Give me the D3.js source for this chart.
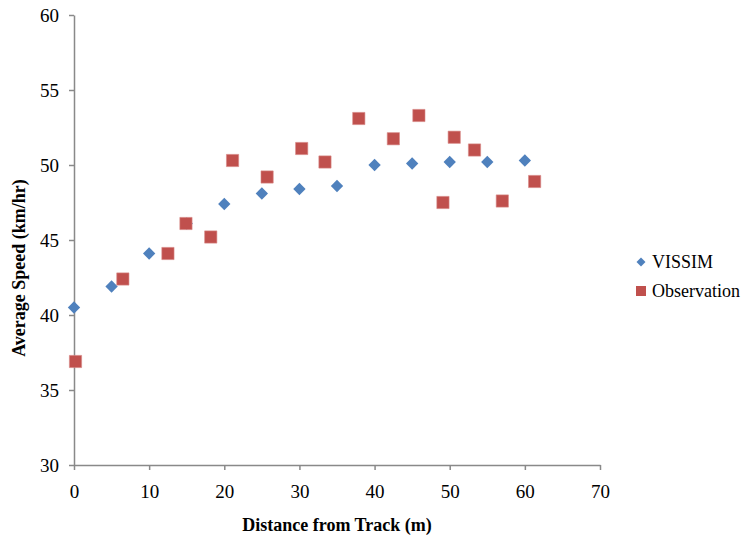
<!DOCTYPE html>
<html>
<head>
<meta charset="utf-8">
<script src="https://cdn.jsdelivr.net/npm/d3@7"></script>
<style>
  html, body { margin: 0; padding: 0; background: #fff; }
  svg { display: block; }
</style>
</head>
<body>
<svg id="chart" width="745" height="539" font-family="Liberation Serif, Times New Roman, serif"></svg>
<script>
// ---- data ----
const vissimX = [0, 5, 10, 15, 20, 25, 30, 35, 40, 45, 50, 55, 60];
const vissimY = [40.5, 41.9, 44.1, 46.1, 47.4, 48.1, 48.4, 48.6, 50.0, 50.1, 50.2, 50.2, 50.3];
const obsX = [0.2, 6.5, 12.5, 14.9, 18.2, 21.1, 25.7, 30.3, 33.4, 37.9, 42.5, 45.9, 49.1, 50.6, 53.3, 57.0, 61.3];
const obsY = [36.9, 42.4, 44.1, 46.1, 45.2, 50.3, 49.2, 51.1, 50.2, 53.1, 51.75, 53.3, 47.5, 51.85, 51.0, 47.6, 48.9];
const xTicks = [0, 10, 20, 30, 40, 50, 60, 70];
const yTicks = [30, 35, 40, 45, 50, 55, 60];
const seriesNames = ["VISSIM", "Observation"];
const xTitle = "Distance from Track (m)";
const yTitle = "Average Speed (km/hr)";

// ---- layout ----
const FONT = "Liberation Serif, Times New Roman, serif";
const svg = d3.select("#chart");
const x = d3.scaleLinear().domain([0, 70]).range([74, 600]);
const y = d3.scaleLinear().domain([30, 60]).range([465, 15]);
const axisColor = "#898989";
const blue = "#4F81BD", red = "#C0504D";

// axes
const gx = svg.append("g").attr("transform", `translate(0,${y(30)})`)
  .call(d3.axisBottom(x).tickValues(xTicks).tickSize(5).tickSizeOuter(0).tickFormat(d3.format("d")));
gx.selectAll("text").attr("y", 33).attr("dy", 0);

const gy = svg.append("g").attr("transform", `translate(${x(0)},0)`)
  .call(d3.axisLeft(y).tickValues(yTicks).tickSize(5).tickSizeOuter(0).tickFormat(d3.format("d")));
gy.selectAll("text").attr("x", -15).attr("dy", "0.34em");

[gx, gy].forEach(g => {
  g.attr("font-family", FONT).attr("font-size", 19);
  g.select(".domain").attr("stroke", axisColor).attr("stroke-width", 1.5);
  g.selectAll(".tick line").attr("stroke", axisColor).attr("stroke-width", 1.5);
  g.selectAll("text").attr("fill", "#000").attr("font-family", FONT).attr("font-size", 19);
});

// markers
const diamond = d3.symbol().type(d3.symbolSquare).size(76);
const square = d3.symbol().type(d3.symbolSquare).size(150);

svg.append("g").selectAll("path").data(vissimX.map((v, i) => [v, vissimY[i]])).join("path")
  .attr("d", diamond)
  .attr("transform", d => `translate(${x(d[0])},${y(d[1])}) rotate(45)`)
  .attr("fill", blue);

svg.append("g").selectAll("path").data(obsX.map((v, i) => [v, obsY[i]])).join("path")
  .attr("d", square)
  .attr("transform", d => `translate(${x(d[0])},${y(d[1])})`)
  .attr("fill", red).attr("stroke", "#d98a88").attr("stroke-width", 0.6);

// axis titles
svg.append("text").attr("x", 337).attr("y", 531).attr("text-anchor", "middle")
  .attr("font-family", FONT).attr("font-size", 18).attr("font-weight", "bold").text(xTitle);
svg.append("text").attr("transform", "translate(25,268) rotate(-90)").attr("text-anchor", "middle")
  .attr("font-family", FONT).attr("font-size", 18).attr("font-weight", "bold").text(yTitle);

// legend
const leg = svg.append("g");
leg.append("path").attr("d", d3.symbol().type(d3.symbolSquare).size(40))
  .attr("transform", "translate(641,262) rotate(45)").attr("fill", blue);
leg.append("path").attr("d", d3.symbol().type(d3.symbolSquare).size(100))
  .attr("transform", "translate(641,291)").attr("fill", red);
leg.selectAll("text.lg").data(seriesNames).join("text").attr("class", "lg")
  .attr("x", 652).attr("y", (d, i) => 268 + i * 29)
  .attr("font-family", FONT).attr("font-size", 18).text(d => d);
</script>
</body>
</html>
